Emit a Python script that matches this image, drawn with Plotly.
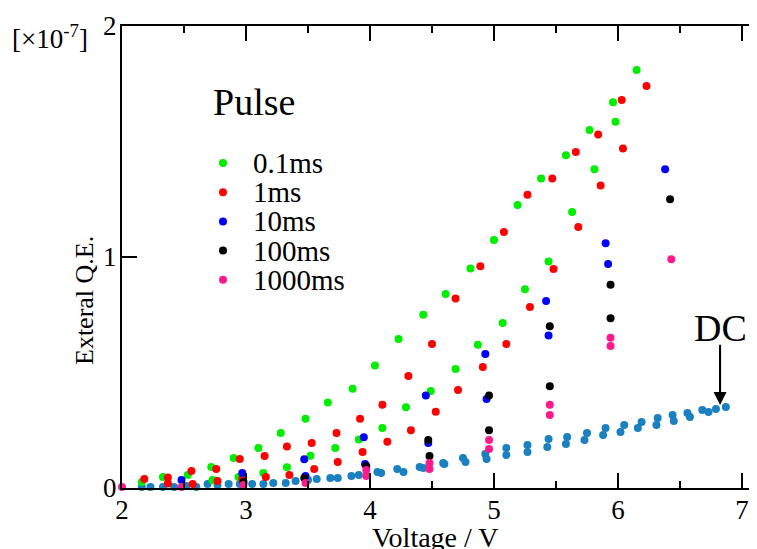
import plotly.graph_objects as go

# External quantum efficiency (x1e-7) vs voltage
v_01ms = [2.16, 2.33, 2.53, 2.73, 2.72, 2.90, 2.94, 3.10, 3.14, 3.28, 3.33, 3.48, 3.52, 3.66, 3.72,
          3.86, 3.91, 4.04, 4.10, 4.23, 4.29, 4.43, 4.49, 4.61, 4.69, 4.81, 4.87, 5.00, 5.07, 5.19,
          5.25, 5.38, 5.44, 5.58, 5.63, 5.77, 5.81, 5.96, 5.98, 6.15]
q_01ms = [0.026, 0.048, 0.056, 0.035, 0.091, 0.13, 0.048, 0.173, 0.065, 0.238, 0.09, 0.30, 0.14, 0.37, 0.173,
          0.43, 0.21, 0.53, 0.26, 0.645, 0.35, 0.75, 0.42, 0.84, 0.515, 0.95, 0.62, 1.074, 0.714, 1.225,
          0.86, 1.34, 0.98, 1.44, 1.195, 1.55, 1.38, 1.67, 1.585, 1.81]

v_1ms = [2.18, 2.37, 2.37, 2.56, 2.57, 2.76, 2.77, 2.95, 2.97, 3.15, 3.16, 3.33, 3.35, 3.53, 3.55,
         3.73, 3.74, 3.92, 3.94, 4.10, 4.14, 4.31, 4.33, 4.50, 4.53, 4.69, 4.71, 4.89, 4.91, 5.08,
         5.10, 5.27, 5.29, 5.47, 5.48, 5.66, 5.68, 5.84, 5.86, 6.03, 6.04, 6.23]
q_1ms = [0.039, 0.045, 0.02, 0.074, 0.017, 0.082, 0.03, 0.126, 0.039, 0.139, 0.048, 0.18, 0.056, 0.195, 0.082,
         0.238, 0.113, 0.30, 0.156, 0.36, 0.20, 0.485, 0.25, 0.623, 0.33, 0.82, 0.424, 0.96, 0.524, 1.108,
         0.623, 1.27, 0.784, 1.34, 0.948, 1.455, 1.13, 1.53, 1.31, 1.68, 1.47, 1.74]

v_10ms = [2.48, 2.97, 3.47, 3.48, 3.95, 3.96, 4.45, 4.47, 4.93, 4.94, 5.42, 5.44, 5.90, 5.92, 6.38]
q_10ms = [0.035, 0.065, 0.125, 0.052, 0.22, 0.104, 0.40, 0.195, 0.58, 0.385, 0.81, 0.66, 1.06, 0.97, 1.38]

v_100ms = [2.98, 3.47, 3.97, 4.47, 4.48, 4.96, 4.96, 5.45, 5.45, 5.94, 5.94, 6.42]
q_100ms = [0.026, 0.043, 0.095, 0.208, 0.139, 0.40, 0.25, 0.70, 0.44, 0.88, 0.735, 1.25]

v_1000ms = [2.00, 2.48, 2.98, 3.48, 3.97, 3.97, 4.48, 4.48, 4.96, 4.96, 5.45, 5.45, 5.94, 5.94, 6.43]
q_1000ms = [0.004, 0.004, 0.013, 0.022, 0.078, 0.052, 0.108, 0.082, 0.208, 0.169, 0.36, 0.316, 0.65, 0.615, 0.99]

v_dc = [2.16, 2.23, 2.33, 2.42, 2.52, 2.60, 2.69, 2.77, 2.86, 2.95, 3.05, 3.14, 3.22, 3.32, 3.40,
        3.50, 3.57, 3.68, 3.74, 3.85, 3.91, 4.06, 4.09, 4.22, 4.27, 4.40, 4.43, 4.59, 4.60, 4.75,
        4.77, 4.93, 4.94, 5.10, 5.10, 5.27, 5.27, 5.44, 5.43, 5.59, 5.58, 5.75, 5.73, 5.90, 5.88,
        6.05, 6.02, 6.19, 6.16, 6.32, 6.31, 6.44, 6.45, 6.56, 6.58, 6.68, 6.73, 6.79, 6.87]
q_dc = [0.004, 0.004, 0.004, 0.004, 0.009, 0.004, 0.017, 0.013, 0.017, 0.017, 0.017, 0.017, 0.022, 0.022, 0.03,
        0.035, 0.039, 0.043, 0.043, 0.052, 0.056, 0.069, 0.065, 0.082, 0.069, 0.091, 0.087, 0.108, 0.104, 0.13,
        0.113, 0.147, 0.126, 0.173, 0.143, 0.186, 0.156, 0.212, 0.177, 0.221, 0.19, 0.238, 0.208, 0.26, 0.229,
        0.273, 0.242, 0.286, 0.26, 0.303, 0.273, 0.316, 0.29, 0.325, 0.307, 0.338, 0.329, 0.342, 0.351]

pulse_names = ["0.1ms", "1ms", "10ms", "100ms", "1000ms"]
pulse_colors = ["#00ee00", "#ff0000", "#0000ff", "#000000", "#ff1a8c"]
pulse_v = [v_01ms, v_1ms, v_10ms, v_100ms, v_1000ms]
pulse_q = [q_01ms, q_1ms, q_10ms, q_100ms, q_1000ms]
dc_color = "#1a80c0"

# where the DC arrow points (end of the DC curve) and where its tail starts
dc_arrow_v, dc_arrow_q = 6.823, 0.359
dc_tail_q = 0.62

FONT = "Liberation Serif"

fig = go.Figure()
fig.add_trace(go.Scatter(x=v_dc, y=q_dc, mode="markers", name="DC",
                         marker=dict(color=dc_color, size=8), cliponaxis=False, showlegend=False))
for name, color, xs, ys in zip(pulse_names, pulse_colors, pulse_v, pulse_q):
    fig.add_trace(go.Scatter(x=xs, y=ys, mode="markers", name=name,
                             marker=dict(color=color, size=8), cliponaxis=False, showlegend=False))

# the page body adds an 8px offset, so the plot box is placed 8px up/left
OFF = 8
L, T, W, H = 122 - OFF, 26 - OFF, 635, 462
def px(x):
    # screen x -> paper fraction
    return (x - OFF - L) / W
def py(y):
    return (T + H - (y - OFF)) / H

annotations = [
    dict(text="Pulse", x=px(211), y=py(102), xref="paper", yref="paper", xanchor="left",
         yanchor="middle", showarrow=False, font=dict(size=38, family=FONT, color="black")),
    dict(text="[×10<sup>-7</sup>]", x=px(90), y=py(37), xref="paper", yref="paper", xanchor="right",
         yanchor="middle", showarrow=False, font=dict(size=27, family=FONT, color="black")),
    dict(text="Voltage / V", x=px(435), y=0, xref="paper", yref="paper", xanchor="center",
         yanchor="top", yshift=-32, showarrow=False, font=dict(size=28, family=FONT, color="black")),
    dict(text="Exteral Q.E.", x=px(84), y=py(301), xref="paper", yref="paper", xanchor="center",
         yanchor="middle", textangle=-90, showarrow=False, font=dict(size=26, family=FONT, color="black")),
    dict(text="DC", x=dc_arrow_v, y=dc_arrow_q, xref="x", yref="y", yshift=77, showarrow=False,
         font=dict(size=38, family=FONT, color="black")),
    # arrow with its tail given in data units
    dict(text="", x=dc_arrow_v, y=dc_arrow_q, ax=dc_arrow_v, ay=dc_tail_q, axref="x", ayref="y",
         xref="x", yref="y", showarrow=True, arrowhead=2, arrowsize=1.3, arrowwidth=2,
         arrowcolor="black", standoff=0),
]
shapes = [
    # arrow shaft, in data units too
    dict(type="line", xref="x", yref="y", x0=dc_arrow_v, x1=dc_arrow_v,
         y0=dc_arrow_q + 0.03, y1=dc_tail_q, layer="above", line=dict(color="black", width=2)),
]
for i, (name, color) in enumerate(zip(pulse_names, pulse_colors)):
    yc = 163 + 29.2 * i
    shapes.append(dict(type="circle", xref="paper", yref="paper", xsizemode="pixel", ysizemode="pixel",
                       xanchor=px(223), yanchor=py(yc), x0=-4, x1=4, y0=-4, y1=4,
                       fillcolor=color, line=dict(width=0)))
    annotations.append(dict(text=name, x=px(251), y=py(yc), xref="paper", yref="paper", xanchor="left",
                            yanchor="middle", showarrow=False,
                            font=dict(size=29, family=FONT, color="black")))

axis_common = dict(showgrid=False, zeroline=False, showline=True, linecolor="black", linewidth=2,
                   ticks="inside", tickcolor="black", tickwidth=2, ticklen=15, automargin=False,
                   tickfont=dict(size=27, family=FONT, color="black"))
fig.update_xaxes(range=[2, 2 + W / 124], tickvals=[2, 3, 4, 5, 6, 7], mirror="ticks",
                 minor=dict(dtick=0.5, tick0=0, ticks="inside", ticklen=7, tickwidth=2, tickcolor="black"),
                 ticklabelstandoff=-3, **axis_common)
fig.update_yaxes(range=[0, 2], tickvals=[0, 1, 2], mirror=False, ticklabelstandoff=-2, **axis_common)

fig.update_layout(width=757, height=549, margin=dict(l=L, r=757 - L - W, t=T, b=549 - T - H),
                  plot_bgcolor="white", paper_bgcolor="white", showlegend=False,
                  annotations=annotations, shapes=shapes, font=dict(family=FONT))
fig.write_html("out.html")
